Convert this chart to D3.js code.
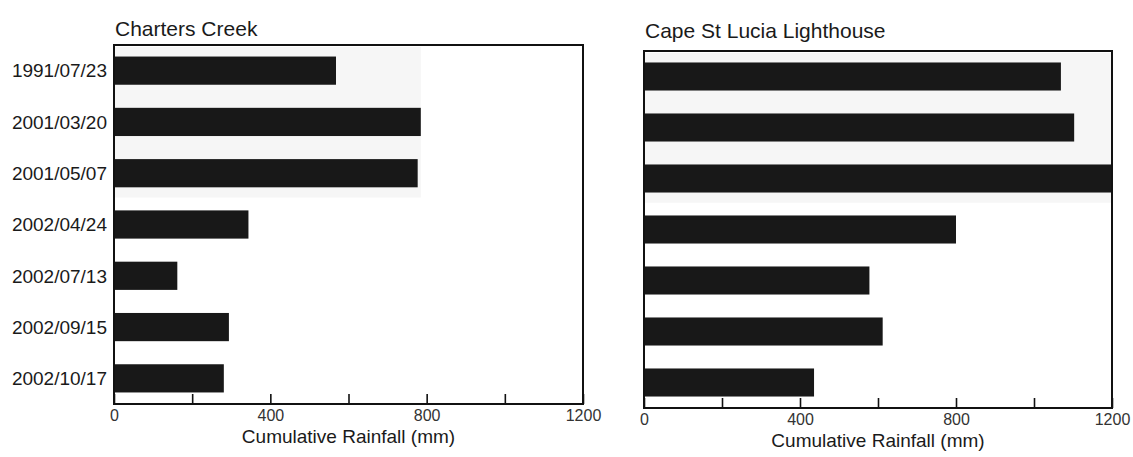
<!DOCTYPE html>
<html>
<head>
<meta charset="utf-8">
<script src="https://cdn.jsdelivr.net/npm/d3@7"></script>
<style>
  html, body { margin: 0; padding: 0; background: #fff; }
  svg { display: block; font-family: "Liberation Sans", Arial, sans-serif; }
</style>
</head>
<body>
<svg id="chart" width="1133" height="457"></svg>
<script>
// Sampling dates (shared by both stations)
const dates = ["1991/07/23", "2001/03/20", "2001/05/07", "2002/04/24",
               "2002/07/13", "2002/09/15", "2002/10/17"];

// Cumulative rainfall (mm) per station
const chartersCreek = [568, 785, 777, 344, 162, 294, 281];
const capeStLucia   = [1069, 1103, 1200, 800, 578, 612, 436];

// Axis ticks: marks every 200 mm, labels every 400 mm
const tickValues   = [0, 200, 400, 600, 800, 1000, 1200];
const tickLabelled = [0, 400, 800, 1200];
const xTitle = "Cumulative Rainfall (mm)";

const svg = d3.select("#chart");

const panels = [
  { title: "Charters Creek", values: chartersCreek, showDates: true,
    left: 114, right: 583, top: 45, bottom: 404, titleY: 36 },
  { title: "Cape St Lucia Lighthouse", values: capeStLucia, showDates: false,
    left: 644, right: 1112, top: 51, bottom: 408, titleY: 38 }
];

panels.forEach(p => {
  const g = svg.append("g");

  const x = d3.scaleLinear().domain([0, 1200]).range([p.left, p.right]).clamp(true);
  const y = d3.scaleBand().domain(dates).range([p.top, p.bottom])
    .paddingInner(0.45).paddingOuter(0.225);

  // faint paper shading behind the first three rows
  const topRows = dates.slice(0, 3);
  const shadeRight = p.showDates
    ? x(d3.max(p.values.slice(0, 3)))
    : p.right;
  g.append("rect")
    .attr("x", p.left)
    .attr("y", p.top + 2)
    .attr("width", shadeRight - p.left)
    .attr("height", y(topRows[2]) + y.bandwidth() + y.step() * 0.2 - p.top - 2)
    .attr("fill", "#f6f6f6");

  // bars
  g.selectAll("rect.bar")
    .data(dates.map((d, i) => ({ date: d, value: p.values[i] })))
    .join("rect")
    .attr("class", "bar")
    .attr("x", x(0))
    .attr("y", d => y(d.date))
    .attr("width", d => x(d.value) - x(0))
    .attr("height", y.bandwidth())
    .attr("fill", "#181818");

  // bottom axis with inward ticks
  const axis = d3.axisBottom(x)
    .tickValues(tickValues)
    .tickSize(-10)
    .tickPadding(6)
    .tickFormat(v => tickLabelled.includes(v) ? String(v) : "");
  const ax = g.append("g")
    .attr("transform", `translate(0,${p.bottom})`)
    .call(axis);
  ax.select(".domain").remove();
  ax.selectAll(".tick line").attr("stroke", "#111").attr("stroke-width", 1.6);
  ax.selectAll(".tick text")
    .attr("fill", "#333")
    .style("font-size", "16px")
    .style("font-family", "'Liberation Sans', Arial, sans-serif");

  // frame
  g.append("rect")
    .attr("x", p.left)
    .attr("y", p.top)
    .attr("width", p.right - p.left)
    .attr("height", p.bottom - p.top)
    .attr("fill", "none")
    .attr("stroke", "#111")
    .attr("stroke-width", 2);

  // station title
  g.append("text")
    .attr("x", p.left + 1)
    .attr("y", p.titleY)
    .attr("fill", "#1a1a1a")
    .style("font-size", "21px")
    .text(p.title);

  // x axis title
  g.append("text")
    .attr("x", (p.left + p.right) / 2)
    .attr("y", p.bottom + 39)
    .attr("text-anchor", "middle")
    .attr("fill", "#1a1a1a")
    .style("font-size", "19px")
    .text(xTitle);

  // date labels
  if (p.showDates) {
    g.selectAll("text.date")
      .data(dates)
      .join("text")
      .attr("class", "date")
      .attr("x", p.left - 7)
      .attr("y", d => y(d) + y.bandwidth() / 2)
      .attr("dy", "0.36em")
      .attr("text-anchor", "end")
      .attr("fill", "#1a1a1a")
      .style("font-size", "19px")
      .text(d => d);
  }
});
</script>
</body>
</html>
